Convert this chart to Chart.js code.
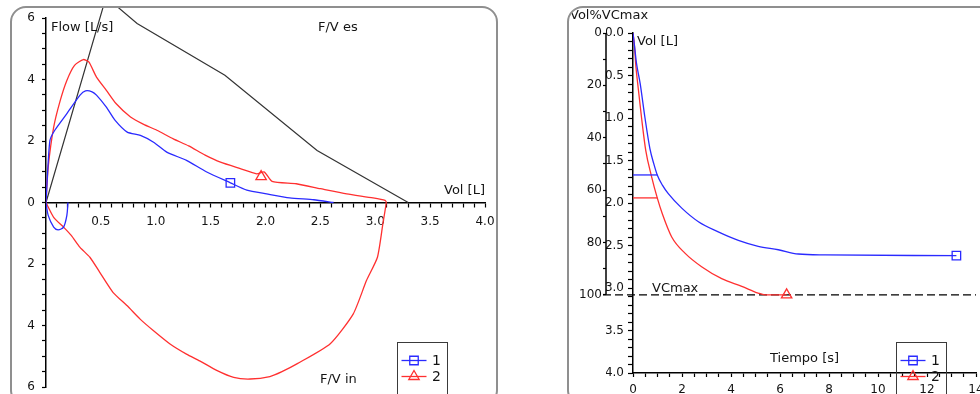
<!DOCTYPE html>
<html>
<head>
<meta charset="utf-8">
<script src="https://cdn.jsdelivr.net/npm/chart.js@4.4.1/dist/chart.umd.min.js"></script>
<style>
    html, body { margin: 0; padding: 0; background: #fff; }
    body { width: 980px; height: 394px; overflow: hidden; position: relative; }
    .panel { position: absolute; top: 6px; height: 400px; box-sizing: border-box;
             border: 2px solid #8f8f8f; border-radius: 16px; overflow: hidden; background: #fff; }
    #fvPanel { left: 10px; width: 488px; }
    #vtPanel { left: 567px; width: 430px; }
    canvas { position: absolute; left: 0; top: 0; }
</style>
</head>
<body>
<div class="panel" id="fvPanel"><canvas id="fvChart" width="484" height="396"></canvas></div>
<div class="panel" id="vtPanel"><canvas id="vtChart" width="426" height="396"></canvas></div>
<script>
// Series
const seriesNames = ['1', '2'];

// Flow / volume loop, trial 1 (blue)
const fv1ExpVol  = [0, 0.015, 0.036, 0.08, 0.19, 0.31, 0.36, 0.42, 0.46, 0.55, 0.63, 0.74, 0.86, 0.98, 1.10, 1.28, 1.46, 1.68, 1.83, 2.01, 2.22, 2.44, 2.62];
const fv1ExpFlow = [0, 1.00, 2.02, 2.35, 2.89, 3.49, 3.63, 3.60, 3.49, 3.10, 2.67, 2.29, 2.18, 1.96, 1.64, 1.37, 1.00, 0.64, 0.40, 0.28, 0.15, 0.09, 0];
const fv1InsVol  = [0, 0.02, 0.07, 0.11, 0.16, 0.19, 0.20];
const fv1InsFlow = [0, -0.42, -0.80, -0.89, -0.80, -0.42, 0];

// Flow / volume loop, trial 2 (red): expiration then inspiration
const fv2Vol  = [0, 0.02, 0.07, 0.13, 0.19, 0.26, 0.34, 0.39, 0.46, 0.55, 0.64, 0.77, 0.89, 1.01, 1.16, 1.30, 1.45, 1.59, 1.77, 1.92, 1.99, 2.06, 2.28, 2.50, 2.74, 2.98, 3.09,
                 3.10, 3.07, 3.02, 2.92, 2.80, 2.59, 2.29, 2.15, 2.04, 1.86, 1.71, 1.56, 1.40, 1.28, 1.13, 0.98, 0.86, 0.74, 0.61, 0.49, 0.40, 0.31, 0.23, 0.16, 0.07, 0];
const fv2Flow = [0, 1.15, 2.45, 3.32, 3.97, 4.46, 4.65, 4.57, 4.08, 3.65, 3.21, 2.78, 2.54, 2.35, 2.07, 1.84, 1.54, 1.31, 1.10, 0.93, 0.99, 0.69, 0.61, 0.45, 0.28, 0.15, 0.07,
                 0, -0.68, -1.78, -2.54, -3.62, -4.59, -5.24, -5.50, -5.66, -5.74, -5.69, -5.47, -5.15, -4.93, -4.60, -4.17, -3.80, -3.36, -2.92, -2.27, -1.78, -1.46, -1.07, -0.80, -0.48, 0];

// Predicted flow / volume envelope
const predVol  = [0, 0.547, 0.83, 1.63, 2.47, 3.30];
const predFlow = [0, 6.68, 5.82, 4.14, 1.69, 0];

// Marker points on the loops [vol, flow]
const fvMark1 = [1.68, 0.64];
const fvMark2 = [1.96, 0.84];

// Volume / time, trial 1 (blue) and trial 2 (red)
const vt1Time = [0, 0.06, 0.14, 0.29, 0.49, 0.69, 0.85, 0.99, 1.20, 1.44, 1.99, 2.67, 3.48, 4.30, 5.11, 5.93, 6.75, 7.84, 13.2];
const vt1Vol  = [0, 0.15, 0.35, 0.59, 1.00, 1.36, 1.54, 1.67, 1.79, 1.89, 2.06, 2.22, 2.34, 2.44, 2.51, 2.55, 2.60, 2.61, 2.62];
const vt2Time = [0, 0.06, 0.12, 0.19, 0.35, 0.52, 0.75, 0.99, 1.20, 1.58, 2.12, 2.80, 3.62, 4.44, 5.11, 5.39, 6.27];
const vt2Vol  = [0, 0.15, 0.40, 0.59, 1.00, 1.38, 1.68, 1.94, 2.13, 2.40, 2.59, 2.75, 2.89, 2.98, 3.06, 3.08, 3.08];
const fev1    = [1.67, 1.94];
const vcMax   = 3.08;

// Styles
const blue = '#2a2aff';
const red = '#ff3030';
const seriesColors = [blue, red];
const seriesMarks = ['rect', 'triangle'];
const TEXT = '#141414';
const LABEL_FONT = '13px "DejaVu Sans"';
Chart.defaults.font.family = '"DejaVu Sans"';

const pts = (xs, ys) => xs.map((x, i) => ({ x: x, y: ys[i] }));

function curve(data, color, extra) {
    return Object.assign({
        data: data,
        showLine: true,
        borderColor: color,
        borderWidth: 1.3,
        pointRadius: 0,
        fill: false
    }, extra || {});
}

function marker(p, color, style) {
    return {
        data: [{ x: p[0], y: p[1] }],
        showLine: false,
        pointStyle: style,
        pointRadius: 6,
        pointBorderWidth: 1.3,
        borderColor: color,
        backgroundColor: 'rgba(0,0,0,0)'
    };
}

function tickGrid(len) {
    return { display: true, drawOnChartArea: false, drawTicks: true, tickLength: len, tickColor: '#000', tickWidth: 1.2 };
}

const axisBorder = { display: true, color: '#000', width: 1.5 };

function drawLegend(ctx, x, y) {
    ctx.save();
    ctx.strokeStyle = '#3a3a3a';
    ctx.lineWidth = 1;
    ctx.strokeRect(x, y, 50, 80);
    seriesNames.forEach((name, i) => {
        const cy = y + 18 + i * 16;
        ctx.strokeStyle = seriesColors[i];
        ctx.lineWidth = 1.3;
        ctx.beginPath();
        ctx.moveTo(x + 4, cy);
        ctx.lineTo(x + 29, cy);
        ctx.stroke();
        ctx.fillStyle = 'rgba(0,0,0,0)';
        Chart.helpers.drawPoint(ctx, { pointStyle: seriesMarks[i], radius: 6, rotation: 0, borderWidth: 1.3 }, x + 16.5, cy);
        ctx.fillStyle = TEXT;
        ctx.font = '14px "DejaVu Sans"';
        ctx.textAlign = 'center';
        ctx.textBaseline = 'middle';
        ctx.fillText(name, x + 39, cy + 1);
    });
    ctx.restore();
}

// Texts and legend for the flow/volume chart
const fvDecor = {
    id: 'fvDecor',
    afterDraw(chart) {
        const ctx = chart.ctx;
        const { left, right, top } = chart.chartArea;
        const y0 = chart.scales.y.getPixelForValue(0);
        ctx.save();
        ctx.fillStyle = TEXT;
        ctx.font = LABEL_FONT;
        ctx.textBaseline = 'middle';
        ctx.textAlign = 'left';
        ctx.fillText('Flow [L/s]', left + 5, top + 10);
        ctx.fillText('F/V es', 306, top + 10);
        ctx.fillText('F/V in', 308, 372);
        ctx.textAlign = 'right';
        ctx.fillText('Vol [L]', right, y0 - 12);
        ctx.restore();
        drawLegend(ctx, 385.5, 334.5);
    }
};

// %VC axis line, VCmax line, texts and legend for the volume/time chart
const vtDecor = {
    id: 'vtDecor',
    beforeDatasetsDraw(chart) {
        const ctx = chart.ctx;
        const pct = chart.scales.yPct;
        const yv = chart.scales.yVol.getPixelForValue(vcMax);
        ctx.save();
        ctx.strokeStyle = '#000';
        ctx.lineWidth = 1.5;
        ctx.beginPath();
        ctx.moveTo(pct.right, pct.getPixelForValue(0));
        ctx.lineTo(pct.right, pct.getPixelForValue(100));
        ctx.stroke();
        ctx.setLineDash([8, 4]);
        ctx.lineWidth = 1.3;
        ctx.beginPath();
        ctx.moveTo(pct.right - 3, yv);
        ctx.lineTo(chart.chartArea.right, yv);
        ctx.stroke();
        ctx.restore();
    },
    afterDraw(chart) {
        const ctx = chart.ctx;
        const { left, top, bottom } = chart.chartArea;
        const yv = chart.scales.yVol.getPixelForValue(vcMax);
        ctx.save();
        ctx.fillStyle = TEXT;
        ctx.font = LABEL_FONT;
        ctx.textBaseline = 'middle';
        ctx.textAlign = 'left';
        ctx.fillText('Vol%VCmax', 1, 8);
        ctx.fillText('Vol [L]', left + 4, top + 9);
        ctx.fillText('VCmax', left + 19, yv - 6);
        ctx.fillText('Tiempo [s]', left + 137, bottom - 14);
        ctx.restore();
        drawLegend(ctx, 327.5, 334.5);
    }
};

const commonOptions = {
    responsive: false,
    animation: false,
    events: [],
    plugins: { legend: { display: false }, tooltip: { enabled: false } }
};

new Chart(document.getElementById('fvChart'), {
    type: 'scatter',
    data: {
        datasets: [
            marker(fvMark1, blue, 'rect'),
            marker(fvMark2, red, 'triangle'),
            curve(pts(fv1ExpVol, fv1ExpFlow), blue, { tension: 0.2 }),
            curve(pts(fv1InsVol, fv1InsFlow), blue, { tension: 0.3 }),
            curve(pts(fv2Vol, fv2Flow), red, { tension: 0.2 }),
            curve(pts(predVol, predFlow), '#333', { borderWidth: 1.2, clip: false })
        ]
    },
    options: Object.assign({}, commonOptions, {
        layout: { padding: { left: 0, top: 10, right: 11, bottom: 17 } },
        scales: {
            x: {
                type: 'linear',
                position: { y: 0 },
                min: 0, max: 4,
                grid: tickGrid(4),
                border: axisBorder,
                ticks: {
                    stepSize: 0.1, autoSkip: false, maxRotation: 0, padding: 8,
                    color: TEXT, font: { size: 12 },
                    callback: v => {
                        const r = Math.round(v * 10);
                        return (r !== 0 && r % 5 === 0) ? (r / 10).toFixed(1) : '';
                    }
                },
                afterFit: s => { s.height = 0; s.paddingLeft = 0; s.paddingRight = 0; }
            },
            y: {
                type: 'linear',
                position: 'left',
                min: -6, max: 6,
                grid: tickGrid(4),
                border: axisBorder,
                ticks: {
                    stepSize: 0.5, autoSkip: false, padding: 7,
                    color: TEXT, font: { size: 12 },
                    callback: v => (Math.abs(v % 2) < 1e-9 ? String(Math.abs(v)) : '')
                },
                afterFit: s => { s.width = 34; s.paddingTop = 0; s.paddingBottom = 0; }
            }
        }
    }),
    plugins: [fvDecor]
});

new Chart(document.getElementById('vtChart'), {
    type: 'scatter',
    data: {
        datasets: [
            Object.assign(marker([vt1Time[vt1Time.length - 1], vt1Vol[vt1Vol.length - 1]], blue, 'rect'), { yAxisID: 'yVol' }),
            Object.assign(marker([vt2Time[vt2Time.length - 1], vt2Vol[vt2Vol.length - 1]], red, 'triangle'), { yAxisID: 'yVol' }),
            curve([{ x: 0, y: fev1[0] }, { x: 1, y: fev1[0] }], blue, { yAxisID: 'yVol' }),
            curve([{ x: 0, y: fev1[1] }, { x: 1, y: fev1[1] }], red, { yAxisID: 'yVol' }),
            curve(pts(vt1Time, vt1Vol), blue, { yAxisID: 'yVol', cubicInterpolationMode: 'monotone' }),
            curve(pts(vt2Time, vt2Vol), red, { yAxisID: 'yVol', cubicInterpolationMode: 'monotone' })
        ]
    },
    options: Object.assign({}, commonOptions, {
        layout: { padding: { left: 0, top: 25, right: 19, bottom: 0 } },
        scales: {
            x: {
                type: 'linear',
                position: 'bottom',
                min: 0, max: 14,
                grid: tickGrid(4),
                border: axisBorder,
                ticks: {
                    stepSize: 0.5, autoSkip: false, maxRotation: 0, padding: 6,
                    color: TEXT, font: { size: 12 },
                    callback: v => (Number.isInteger(v) && v % 2 === 0 ? String(v) : '')
                },
                afterFit: s => { s.height = 31; s.paddingLeft = 0; s.paddingRight = 0; }
            },
            yVol: {
                type: 'linear',
                position: 'left',
                weight: 0,
                reverse: true,
                min: 0, max: 4,
                grid: tickGrid(5),
                border: axisBorder,
                ticks: {
                    stepSize: 0.1, autoSkip: false, padding: 4,
                    color: TEXT, font: { size: 12 },
                    callback: v => {
                        const r = Math.round(v * 10);
                        return r % 5 === 0 ? (r / 10).toFixed(1) : '';
                    }
                },
                afterFit: s => { s.width = 27; s.paddingTop = 0; s.paddingBottom = 0; }
            },
            yPct: {
                type: 'linear',
                position: 'left',
                weight: 1,
                reverse: true,
                min: 0, max: 100 * 4 / vcMax,
                grid: tickGrid(3),
                border: { display: false },
                ticks: {
                    stepSize: 10, autoSkip: false, padding: 1,
                    color: TEXT, font: { size: 12 },
                    callback: v => (Math.round(v) % 20 === 0 ? String(Math.round(v)) : '')
                },
                afterBuildTicks: s => { s.ticks = s.ticks.filter(t => t.value <= 100.001); },
                afterFit: s => { s.width = 37; s.paddingTop = 0; s.paddingBottom = 0; }
            }
        }
    }),
    plugins: [vtDecor]
});
</script>
</body>
</html>
